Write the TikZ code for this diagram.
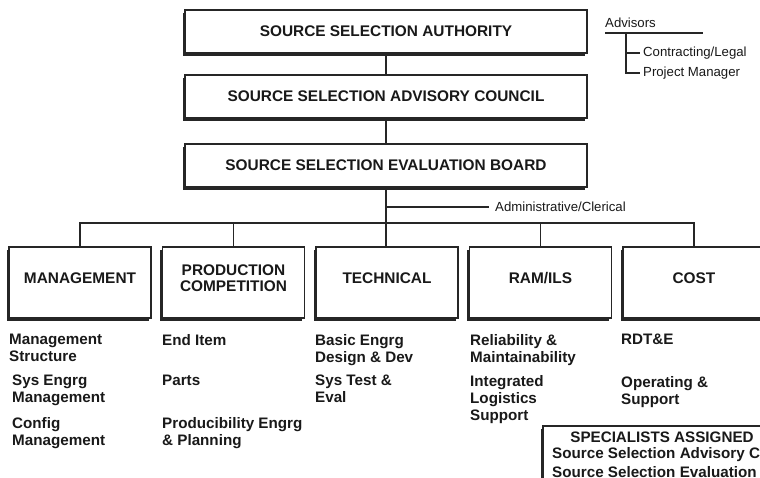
\documentclass[tikz,border=0pt]{standalone}
\usepackage{fontspec}
\setmainfont{Liberation Sans}
\usetikzlibrary{positioning, shadows}

\tikzset{
    chart/.style={draw=black!85, line width=1.3pt, fill=white, general shadow={fill=black!85, shadow xshift=-2.5pt, shadow yshift=-3pt}, inner sep=0pt, outer sep=0pt, text=black!90, font=\bfseries\fontsize{15.4}{16}\selectfont},
    topbox/.style={chart, minimum width=402pt, minimum height=43pt},
    panel/.style={chart, minimum width=142pt, minimum height=71pt, align=center, text depth=9pt},
    item/.style={anchor=north west, inner sep=0pt, align=left, text=black!90, font=\bfseries\fontsize{15.2}{17}\selectfont},
    note/.style={inner sep=0pt, text=black!90, font=\fontsize{13.2}{14}\selectfont},
    link/.style={draw=black!85, line width=1.6pt},
    thinlink/.style={draw=black!85, line width=1.1pt}
}

\begin{document}
\begin{tikzpicture}[x=1pt, y=-1pt]
        \useasboundingbox (0,0) rectangle (760,478);
        \clip (0,0) rectangle (760,478);
        \fill[white] (0,0) rectangle (760,478);

        %%% Top of the chart
            % Three stacked boxes, one below the other
            \node[topbox] (ssa) at (386,31.5) {SOURCE SELECTION AUTHORITY};
            \node[topbox, below=22pt of ssa] (ssac) {SOURCE SELECTION ADVISORY COUNCIL};
            \node[topbox, below=26pt of ssac] (sseb) {SOURCE SELECTION EVALUATION BOARD};

            % Links between them
            \draw[link] (ssa) -- (ssac);
            \draw[link] (ssac) -- (sseb);

        %%% Advisors note
            \node[note, anchor=base west] (adv) at (605,28) {Advisors};
            \coordinate (advL) at (605,33);
            \coordinate (advR) at (703,33);
            \coordinate (trunk) at (626,33);
            \draw[thinlink] (advL) -- (advR); % underline

            \node[note, inner xsep=3pt, anchor=west] (legal) at (640,53) {Contracting/Legal};
            \node[note, inner xsep=3pt, anchor=west] (pm) at (640,73) {Project Manager};
            \draw[thinlink] (trunk) |- (pm.west);
            \draw[thinlink] (trunk |- legal.west) -- (legal.west);

        %%% Panels of the board
            % Row of five boxes, next to each other
            \node[panel] (mgmt) at (80,282.5) {MANAGEMENT};
            \node[panel, right=11.5pt of mgmt] (prod) {PRODUCTION\\COMPETITION};
            \node[panel, right=11.5pt of prod] (tech) {TECHNICAL};
            \node[panel, right=11.5pt of tech] (ram) {RAM/ILS};
            \node[panel, right=11.5pt of ram] (cost) {COST};

            % Bus line over the panels
            \coordinate (bus) at (0,223);
            \draw[link] (mgmt.north) |- (bus -| cost.north) -- (cost.north);
            \foreach \n in {prod, ram}
                \draw[link] (\n.north) -- (\n.north |- bus);
            \draw[link] (sseb.south) -- (sseb.south |- tech.north);

            % Side branch
            \node[note, inner xsep=6pt, anchor=west] (admin) at (489,207) {Administrative/Clerical};
            \draw[thinlink] (sseb.south |- admin.west) -- (admin.west);

        %%% Lists under the panels
            % Management
            \node[item] (mgmtA) at (9,334) {Management\\Structure};
            \node[item] (mgmtB) at (12,374.5) {Sys Engrg\\Management};
            \node[item] (mgmtC) at (12,417.5) {Config\\Management};

            % Production competition
            \node[item] (prodA) at (162,334) {End Item};
            \node[item] (prodB) at (162,374.5) {Parts};
            \node[item] (prodC) at (162,417.5) {Producibility Engrg\\\& Planning};

            % Technical
            \node[item] (techA) at (315,334) {Basic Engrg\\Design \& Dev};
            \node[item] (techB) at (315,374.5) {Sys Test \&\\Eval};

            % RAM/ILS
            \node[item] (ramA) at (470,334) {Reliability \&\\Maintainability};
            \node[item] (ramB) at (470,375.5) {Integrated\\Logistics\\Support};

            % Cost
            \node[item] (costA) at (621,334) {RDT\&E};
            \node[item] (costB) at (621,376.5) {Operating \&\\Support};

        %%% Specialists box (runs off the page)
            \node[chart, anchor=north west, minimum width=300pt, minimum height=80pt] (spec) at (543,426) {};
            \node[item, anchor=center] (specT) at (662,437) {SPECIALISTS ASSIGNED};
            \node[item, anchor=west] (specA) at (552,455) {Source Selection Advisory Council};
            \node[item, anchor=west] (specB) at (552,472) {Source Selection Evaluation Board};
\end{tikzpicture}
\end{document}
